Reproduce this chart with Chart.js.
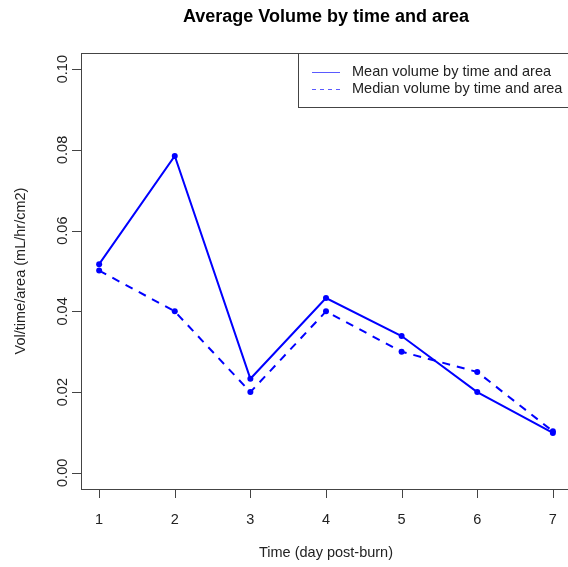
<!DOCTYPE html>
<html>
<head>
<meta charset="utf-8">
<script src="https://cdn.jsdelivr.net/npm/chart.js@4"></script>
<style>
  html, body { margin: 0; padding: 0; background: #fff; overflow: hidden; }
  #wrap { width: 580px; height: 567px; }
</style>
</head>
<body>
<div id="wrap"><canvas id="grafico" width="580" height="567"></canvas></div>
<script>
// dados
const dias = [1, 2, 3, 4, 5, 6, 7];
const media = [0.0517, 0.0785, 0.0233, 0.0433, 0.0339, 0.0200, 0.0099];
const mediana = [0.0501, 0.0400, 0.0200, 0.0400, 0.0300, 0.0250, 0.0103];
const ticksY = [0, 0.02, 0.04, 0.06, 0.08, 0.10];
const rotulosY = ['0.00', '0.02', '0.04', '0.06', '0.08', '0.10'];
const nomes = ['Mean volume by time and area', 'Median volume by time and area'];

const FONTE = '"Liberation Sans", Arial, sans-serif';
const AZUL = '#0000ff';

function pontos(ys) {
    let out = [];
    for (let i = 0; i < dias.length; i++) {
        out.push({ x: dias[i], y: ys[i] });
    }
    return out;
}

// eixos no estilo R desenhados à mão
const eixosR = {
    id: 'eixosR',
    afterDraw(chart) {
        const c = chart.ctx;
        const a = chart.chartArea;
        const sx = chart.scales.x;
        const sy = chart.scales.y;
        c.save();

        // caixa
        c.strokeStyle = '#444';
        c.lineWidth = 1;
        c.strokeRect(a.left + 0.5, a.top + 0.5, a.right - a.left, a.bottom - a.top);

        c.fillStyle = '#222';
        c.font = '14.5px ' + FONTE;

        // eixo x
        c.beginPath();
        c.moveTo(sx.getPixelForValue(dias[0]), a.bottom + 0.5);
        c.lineTo(sx.getPixelForValue(dias[dias.length - 1]), a.bottom + 0.5);
        for (let i = 0; i < dias.length; i++) {
            const px = Math.round(sx.getPixelForValue(dias[i])) + 0.5;
            c.moveTo(px, a.bottom);
            c.lineTo(px, a.bottom + 9);
        }
        c.stroke();
        c.textAlign = 'center';
        c.textBaseline = 'middle';
        for (let i = 0; i < dias.length; i++) {
            c.fillText(String(dias[i]), sx.getPixelForValue(dias[i]), a.bottom + 31);
        }

        // eixo y
        c.beginPath();
        c.moveTo(a.left + 0.5, sy.getPixelForValue(ticksY[0]));
        c.lineTo(a.left + 0.5, sy.getPixelForValue(ticksY[ticksY.length - 1]));
        for (let i = 0; i < ticksY.length; i++) {
            const py = Math.round(sy.getPixelForValue(ticksY[i])) + 0.5;
            c.moveTo(a.left, py);
            c.lineTo(a.left - 9, py);
        }
        c.stroke();
        for (let i = 0; i < ticksY.length; i++) {
            c.save();
            c.translate(a.left - 18, sy.getPixelForValue(ticksY[i]));
            c.rotate(-Math.PI / 2);
            c.fillText(rotulosY[i], 0, 0);
            c.restore();
        }

        // títulos
        c.fillText('Time (day post-burn)', (a.left + a.right) / 2, 553);
        c.save();
        c.translate(21, (a.top + a.bottom) / 2);
        c.rotate(-Math.PI / 2);
        c.fillText('Vol/time/area (mL/hr/cm2)', 0, 0);
        c.restore();

        c.font = 'bold 18px ' + FONTE;
        c.fillStyle = '#000';
        c.fillText('Average Volume by time and area', (a.left + a.right) / 2, 17);

        // legenda
        const lx = 298, ly = a.top;
        c.fillStyle = '#fff';
        c.fillRect(lx, ly, 300, 54);
        c.strokeStyle = '#444';
        c.strokeRect(lx + 0.5, ly + 0.5, 300, 54);
        c.font = '14.5px ' + FONTE;
        c.textAlign = 'left';
        c.fillStyle = '#222';
        const tracos = [[], [4, 4]];
        for (let i = 0; i < nomes.length; i++) {
            const yy = ly + 19 + i * 17;
            c.strokeStyle = '#5a5aff';
            c.setLineDash(tracos[i]);
            c.beginPath();
            c.moveTo(lx + 14, yy + 0.5);
            c.lineTo(lx + 42, yy + 0.5);
            c.stroke();
            c.setLineDash([]);
            c.fillText(nomes[i], lx + 54, yy);
        }
        c.restore();
    }
};

window.onload = () => {
    new Chart(document.getElementById('grafico'), {
        type: 'line',
        data: {
            datasets: [{
                label: nomes[0],
                data: pontos(media),
                borderColor: AZUL,
                backgroundColor: AZUL,
                borderWidth: 2,
                tension: 0,
                pointRadius: 3,
                pointBorderWidth: 0,
                pointBackgroundColor: AZUL
            }, {
                label: nomes[1],
                data: pontos(mediana),
                borderColor: AZUL,
                backgroundColor: AZUL,
                borderWidth: 2,
                borderDash: [8, 7],
                tension: 0,
                pointRadius: 3,
                pointBorderWidth: 0,
                pointBackgroundColor: AZUL
            }]
        },
        options: {
            responsive: false,
            animation: false,
            layout: {
                padding: { left: 81, right: 9, top: 53, bottom: 78 }
            },
            plugins: {
                legend: { display: false },
                title: { display: false },
                tooltip: { enabled: false }
            },
            scales: {
                x: { type: 'linear', display: false, min: 0.76, max: 7.24 },
                y: { type: 'linear', display: false, min: -0.004, max: 0.104 }
            }
        },
        plugins: [eixosR]
    });
};
</script>
</body>
</html>
